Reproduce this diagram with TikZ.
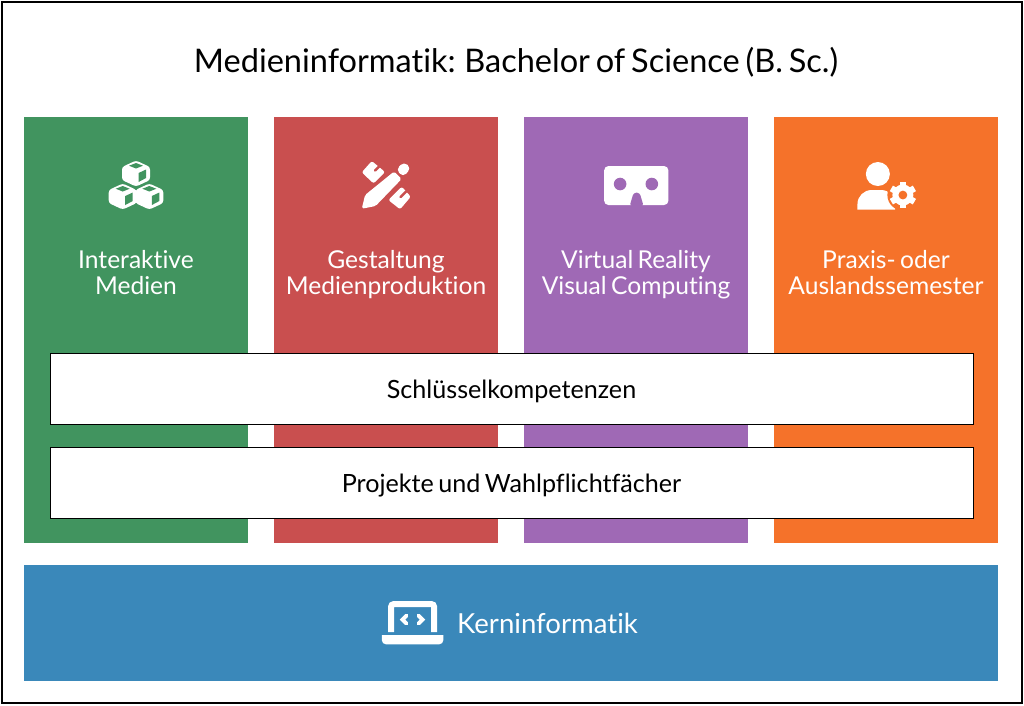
\documentclass[tikz,border=0pt]{standalone}
\usepackage{fontspec}
\setmainfont{Lato}[Ligatures=NoCommon, WordSpace=0.7]
\definecolor{mediagreen}{HTML}{41945F}
\definecolor{mediared}{HTML}{C94F4F}
\definecolor{mediapurple}{HTML}{9F69B5}
\definecolor{mediaorange}{HTML}{F5722A}
\definecolor{mediablue}{HTML}{3A88BA}
\tikzset{
  column/.style={minimum width=4.48cm, minimum height=8.52cm, inner sep=0pt},
  collabel/.style={white, align=center, font=\fontsize{14}{15}\selectfont},
  barbox/.style={draw=black, line width=0.5pt, fill=white, minimum width=18.46cm, minimum height=1.42cm, inner sep=0pt, text height=12pt, text depth=1pt, font=\fontsize{14.3}{15}\selectfont},
  iconpx/.style={shift={(0cm,14.12cm)}, x=0.02cm, y=-0.02cm},
}
\begin{document}
\begin{tikzpicture}
    \useasboundingbox (0,0) rectangle (20.48,14.12);
    % Frame and title
    \draw[line width=1.1pt, fill=white] (0.04,0.06) rectangle (20.44,14.08);
    \node[font=\fontsize{18.5}{22}\selectfont] (title) at (10.32,12.88) {Medieninformatik: Bachelor of Science (B. Sc.)};

    % Study tracks
    \node[column, fill=mediagreen] (green) at (2.72,7.52) {};
    \node[column, fill=mediared] (red) at (7.72,7.52) {};
    \node[column, fill=mediapurple] (purple) at (12.72,7.52) {};
    \node[column, fill=mediaorange] (orange) at (17.72,7.52) {};
    \node[collabel] (interaktiv) at (2.72,8.67) {Interaktive\\Medien};
    \node[collabel] (gestaltung) at (7.72,8.63) {Gestaltung\\Medienproduktion};
    \node[collabel] (virtual) at (12.72,8.63) {Virtual Reality\\Visual Computing};
    \node[collabel] (praxis) at (17.72,8.67) {Praxis- oder\\Auslandssemester};

    % Cross-cutting bars
    \node[barbox] (schluessel) at (10.23,6.35) {Schlüsselkompetenzen};
    \node[barbox] (projekte) at (10.23,4.47) {Projekte und Wahlpflichtfächer};

    % Core
    \node[fill=mediablue, minimum width=19.48cm, minimum height=2.32cm, inner sep=0pt] (kern) at (10.22,1.66) {};
    \node[white, font=\fontsize{15.7}{17}\selectfont] (kernlabel) at (10.95,1.66) {Kerninformatik};

    % Cubes icon
    \begin{scope}[iconpx]
        \foreach \x/\y in {136/173.5,122.7/196.5,149.3/196.5} {
            \fill[white, rounded corners=1.5pt] (\x,\y-13) -- (\x+14,\y-6.5) -- (\x+14,\y+6.5) -- (\x,\y+13) -- (\x-14,\y+6.5) -- (\x-14,\y-6.5) -- cycle;
            \fill[mediagreen] (\x,\y-10.5) -- (\x+7,\y-7.8) -- (\x,\y-5) -- (\x-7,\y-7.8) -- cycle;
            \fill[mediagreen] (\x+2.5,\y-0.5) -- (\x+10,\y-4) -- (\x+10,\y+4.5) -- (\x+2.5,\y+8.5) -- cycle;
        }
    \end{scope}

    % Pencil and ruler icon
    \begin{scope}[iconpx]
        \fill[white, rounded corners=1.2pt] (361.7,172.3) -- (371.7,161) -- (385,172) -- (373.5,183.5) -- cycle;
        \draw[mediared, line width=1.4pt, line cap=round] (379,166.5) -- (375,170.5);
        \fill[white, rounded corners=1.2pt] (388.3,200) -- (401.7,186.7) -- (410.7,196.7) -- (400,209.3) -- cycle;
        \draw[mediared, line width=1.4pt, line cap=round] (406,191.5) -- (400.5,197);
        \fill[white, rounded corners=1pt] (361.7,208.7) -- (365,195) -- (394,171.5) -- (401.5,179) -- (375.5,206) -- cycle;
        \fill[white, rounded corners=2.5pt] (396,169.5) -- (404,161.7) -- (411,168.3) -- (403,177) -- cycle;
    \end{scope}

    % Headset icon
    \begin{scope}[iconpx]
        \fill[white, rounded corners=2.5pt] (604,166) rectangle (668.3,205);
        \fill[mediapurple] (620,184) circle (6.3);
        \fill[mediapurple] (651.7,184) circle (6.3);
        \fill[mediapurple, rounded corners=1.5pt] (629.5,206) -- (633.5,192.7) -- (639.5,192.7) -- (643.5,206) -- cycle;
    \end{scope}

    % Person and gear icon
    \begin{scope}[iconpx]
        \fill[white] (877.7,174) circle (12);
        \fill[white] (857.3,209.5) [rounded corners=8pt] -- (857.3,190) -- (895,190) [sharp corners] -- (895,209.5) -- cycle;
        \fill[mediaorange] (902.7,195) circle (15.5);
        \fill[white] (902.7,195) circle (10.5);
        \foreach \a in {0,60,...,300} {
            \fill[white, rotate around={\a:(902.7,195)}] (899.5,181.7) rectangle (905.9,190);
        }
        \fill[mediaorange] (902.7,195) circle (4.4);
    \end{scope}

    % Laptop icon
    \begin{scope}[iconpx]
        \draw[white, line width=3.4pt, rounded corners=1.5pt] (391,632) -- (391,604) -- (434,604) -- (434,632);
        \fill[white] (381.7,635) -- (443.3,635) [rounded corners=2.5pt] -- (443.3,644.3) -- (381.7,644.3) [sharp corners] -- cycle;
        \draw[white, line width=2.2pt, line cap=round] (406.5,615.5) -- (402.5,619.5) -- (406.5,623.5);
        \draw[white, line width=2.2pt, line cap=round] (418.5,615.5) -- (422.5,619.5) -- (418.5,623.5);
    \end{scope}
\end{tikzpicture}
\end{document}
